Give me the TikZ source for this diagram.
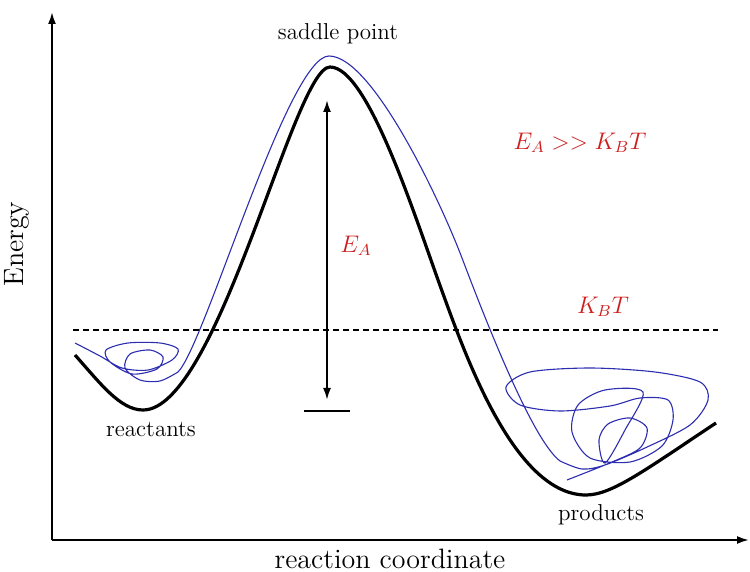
\documentclass[tikz,border=0pt]{standalone}
\usetikzlibrary{arrows.meta}
\definecolor{trajblue}{RGB}{45,45,175}
\definecolor{labelred}{RGB}{205,30,30}
\begin{document}
\begin{tikzpicture}[x=0.5pt,y=-0.5pt,
  axis/.style={line width=1pt,-{Latex[length=6pt,width=4pt]}},
  lbl/.style={font=\fontsize{11.5}{13}\selectfont,inner sep=0pt},
  axlbl/.style={font=\fontsize{14}{16}\selectfont,inner sep=0pt},
  redlbl/.style={font=\fontsize{11.5}{13}\selectfont,text=labelred,inner sep=0pt}]
\useasboundingbox (0,0) rectangle (750,572);
% axes
\coordinate (O) at (52,540);
\coordinate (ytop) at (52,12);
\coordinate (xend) at (749,540);
\draw[axis] (O) -- (ytop);
\draw[axis] (O) -- (xend);
\node[axlbl,rotate=90] (energy) at (17,244) {Energy};
\node[axlbl] (rc) at (390,559) {reaction coordinate};
% dashed kT line
\coordinate (d1) at (73,330);
\coordinate (d2) at (718,330);
\draw[line width=1pt,dash pattern=on 3pt off 2pt] (d1) -- (d2);
% black potential curve
\draw[line width=1.6pt,line join=round]
  (75,355) .. controls (100,383) and (120,410) .. (143,410)
  .. controls (218,410) and (294,67) .. (330,67)
  .. controls (368,67) and (415,217) .. (442,291)
  .. controls (466,357) and (515,495) .. (586,495)
  .. controls (612,495) and (645,470) .. (716,423);
% blue trajectory
\draw[trajblue,line width=0.55pt]
  plot[smooth,tension=0.5] coordinates {
 (75,343) (100,356) (122,368) (148,370) (172,360) (178,349) (160,343) (128,343)
 (106,350) (110,362) (132,374) (157,369) (163,357) (150,350) (130,354) (125,368)
 (140,380) (160,381) (178,372)}
  .. controls (205,345) and (288,56) .. (329,56)
  .. controls (372,56) and (440,200) .. (462,258)
  .. controls (484,316) and (532,440) .. (560,461)
  plot[smooth,tension=0.5] coordinates {
 (560,461) (582,469) (605,465) (645,448) (690,425) (708,400) (700,382)
 (655,372) (590,368) (530,372) (506,387) (520,405) (560,411) (610,406) (640,398)
 (668,400) (673,420) (662,446) (630,462) (590,458) (572,432) (578,405) (605,390)
 (643,392) (625,430) (605,463) (599,440) (608,424) (630,418) (647,428) (640,448)
 (612,462) (567,480)};
% activation energy arrow
\coordinate (atop) at (327,100);
\coordinate (abot) at (327,400);
\draw[line width=1pt,{Latex[length=6pt,width=4pt]}-{Latex[length=6pt,width=4pt]}] (abot) -- (atop);
\coordinate (b1) at (304,411);
\coordinate (b2) at (350,411);
\draw[line width=0.8pt] (b1) -- (b2);
% labels
\node[lbl] (saddle) at (338,34) {saddle point};
\node[lbl] (react) at (151,430) {reactants};
\node[lbl] (prod) at (601,515) {products};
\node[redlbl] (ea) at (356,246) {$E_A$};
\node[redlbl] (cond) at (580,143) {$E_A >> K_B T$};
\node[redlbl] (kbt) at (603,307) {$K_B T$};
\end{tikzpicture}
\end{document}
